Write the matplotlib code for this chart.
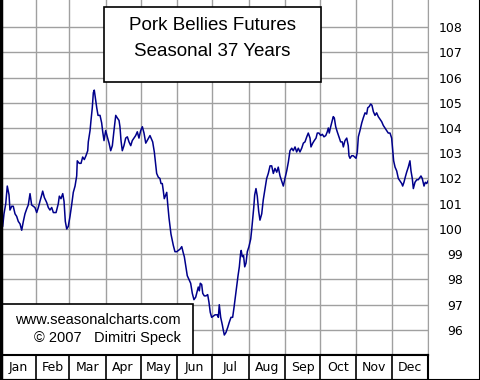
import numpy as np
import matplotlib
matplotlib.use("Agg")
import matplotlib.pyplot as plt
from matplotlib.patches import Rectangle
from matplotlib.lines import Line2D

# seasonal pattern (day of year, index value)
days = [0, 0.9, 2.3, 3.4, 4.9, 6.2, 7.7, 8.5, 10.0, 11.3, 12.8, 14.2, 15.6, 17.1,
        18.5, 19.9, 21.3, 22.8, 24.1, 25.6, 27.0, 28.4, 29.8, 31.3, 32.7, 34.1,
        35.6, 36.4, 37.8, 39.8, 41.2, 42.6, 44.1, 45.5, 47.8, 49.7, 50.6, 52.0,
        53.5, 54.6, 55.7, 56.9, 58.2, 59.7, 61.1, 62.5, 64.0, 65.4, 65.9, 67.6,
        69.1, 70.5, 71.9, 73.3, 74.8, 75.3, 76.8, 77.6, 78.7, 79.6, 80.4, 81.6,
        82.5, 83.6, 85.3, 86.7, 87.6, 88.7, 90.1, 91.5, 93.0, 94.4, 95.8, 97.2,
        98.7, 100.0, 101.5, 102.3, 103.2, 104.3, 105.7, 107.2, 108.6, 110.0,
        111.5, 112.8, 114.3, 115.7, 117.1, 118.5, 120.0, 121.4, 122.8, 124.3,
        127.9, 130.2, 131.6, 132.8, 133.6, 135.0, 136.4, 137.3, 138.4, 139.3,
        140.1, 141.3, 142.2, 143.0, 144.1, 145.0, 145.8, 146.9, 147.8, 149.2,
        150.7, 152.1, 153.5, 155.0, 156.3, 157.2, 158.4, 159.7, 161.2, 162.6,
        164.0, 165.4, 166.9, 168.3, 169.1, 170.0, 170.8, 172.0, 172.9, 174.2,
        175.7, 177.1, 178.2, 179.3, 180.5, 181.9, 183.4, 185.3, 186.2, 187.0,
        188.2, 189.6, 190.4, 191.3, 192.7, 194.2, 195.5, 197.0, 198.4, 199.6,
        200.4, 201.7, 203.0, 204.1, 205.1, 205.7, 206.6, 207.7, 208.7, 209.8,
        210.9, 212.3, 213.8, 214.6, 215.5, 216.4, 217.2, 218.3, 219.4, 220.6,
        221.7, 223.2, 224.5, 226.0, 227.4, 228.8, 230.3, 231.7, 233.1, 234.5,
        236.0, 237.3, 238.8, 240.2, 241.6, 243.0, 244.5, 245.9, 247.3, 248.8,
        250.1, 251.6, 253.0, 254.4, 255.8, 257.3, 258.7, 260.1, 261.6, 262.9,
        264.4, 265.2, 266.7, 268.0, 269.5, 270.6, 272.0, 273.5, 274.9, 276.3,
        277.8, 279.1, 280.0, 280.8, 282.0, 283.1, 284.2, 285.1, 286.3, 287.6,
        289.1, 290.5, 291.9, 292.8, 294.2, 295.7, 297.0, 297.6, 298.5, 299.9,
        301.3, 303.6, 304.7, 305.6, 307.0, 308.5, 309.8, 311.3, 312.7, 313.6,
        314.9, 316.1, 317.2, 318.4, 319.8, 321.2, 322.6, 324.1, 325.5, 326.9,
        328.3, 329.8, 331.1, 332.6, 334.0, 334.9, 335.7, 336.9, 338.3, 339.7,
        341.1, 342.6, 343.4, 344.5, 345.6, 346.8, 348.2, 349.6, 350.5, 351.6,
        352.5, 353.9, 355.4, 356.7, 358.2, 359.0, 360.1, 361.6, 362.7, 363.9,
        365.0]

values = [100.0, 100.0, 100.1, 100.6, 101.0, 101.7, 101.35, 100.75, 100.9, 100.9,
          100.6, 100.5, 100.3, 100.2, 99.95, 100.3, 100.6, 100.8, 100.95, 101.4,
          100.95, 100.9, 100.85, 100.65, 100.85, 101.1, 101.35, 101.5, 101.25,
          101.05, 100.85, 100.75, 100.85, 100.65, 100.65, 101.0, 101.3, 101.2,
          101.4, 101.1, 100.3, 100.0, 100.1, 100.5, 100.95, 101.45, 101.7, 102.1,
          102.7, 102.6, 102.6, 102.85, 102.75, 102.9, 103.1, 103.45, 103.9, 104.3,
          104.8, 105.4, 105.5, 105.1, 104.8, 104.5, 104.5, 104.2, 103.85, 103.5,
          103.9, 103.65, 103.4, 103.1, 103.3, 103.9, 104.5, 104.4, 104.3, 104.05,
          103.5, 103.1, 103.3, 103.6, 103.65, 103.45, 103.3, 103.5, 103.6, 103.7,
          103.85, 103.6, 103.9, 104.05, 103.8, 103.4, 103.7, 103.45, 103.05,
          102.55, 102.2, 102.05, 102.0, 101.8, 101.8, 101.5, 101.2, 101.35,
          101.45, 101.0, 100.45, 100.1, 99.8, 99.55, 99.35, 99.1, 99.1, 99.15,
          99.2, 99.3, 99.05, 98.9, 98.55, 98.15, 98.0, 97.85, 97.45, 97.2, 97.3,
          97.55, 97.7, 97.55, 97.85, 97.8, 97.45, 97.35, 97.35, 97.4, 97.1, 96.7,
          96.5, 96.55, 96.6, 96.6, 96.5, 97.0, 96.5, 96.2, 96.0, 95.8, 95.9, 96.1,
          96.3, 96.5, 96.5, 96.9, 97.2, 97.7, 98.15, 98.5, 99.0, 99.15, 98.9,
          98.95, 98.5, 98.65, 99.1, 99.3, 99.6, 99.95, 100.4, 100.85, 101.35,
          101.6, 101.3, 100.7, 100.35, 100.6, 101.15, 101.6, 102.0, 102.2, 102.5,
          102.5, 102.2, 102.4, 102.25, 102.45, 102.1, 101.9, 101.7, 102.0, 102.3,
          102.65, 103.1, 103.2, 103.1, 103.25, 103.05, 103.2, 103.05, 103.2,
          103.4, 103.45, 103.65, 103.8, 103.6, 103.25, 103.4, 103.5, 103.6, 103.8,
          103.8, 103.7, 103.75, 103.65, 103.7, 103.85, 104.0, 103.8, 104.05,
          104.25, 104.45, 104.4, 104.05, 103.85, 103.65, 103.45, 103.45, 103.25,
          103.5, 103.6, 103.3, 102.9, 102.8, 102.9, 102.9, 102.8, 103.05, 103.65,
          103.9, 104.2, 104.4, 104.6, 104.55, 104.8, 104.85, 104.95, 104.9,
          104.65, 104.5, 104.6, 104.45, 104.35, 104.25, 104.1, 104.0, 103.9,
          103.8, 103.8, 103.6, 103.1, 102.7, 102.45, 102.3, 102.0, 101.9, 101.8,
          101.7, 101.85, 102.05, 102.25, 102.45, 102.7, 102.3, 102.0, 101.6,
          101.85, 101.95, 101.95, 102.05, 102.1, 102.0, 101.7, 101.85, 101.8,
          101.9]

months = ["Jan", "Feb", "Mar", "Apr", "May", "Jun",
          "Jul", "Aug", "Sep", "Oct", "Nov", "Dec"]
month_starts = [0, 31, 59, 90, 120, 151, 181, 212, 243, 273, 304, 334, 365]
y_ticks = [96, 97, 98, 99, 100, 101, 102, 103, 104, 105, 106, 107, 108]

title_lines = ["Pork Bellies Futures", "Seasonal 37 Years"]
credit_lines = ["www.seasonalcharts.com", "\u00a9 2007   Dimitri Speck"]

W, H = 480, 380
fig = plt.figure(figsize=(W / 100, H / 100), dpi=100)
fig.patch.set_facecolor("white")

grid_col = "#a0a0a0"

# main plot area
ax = fig.add_axes([0, 25 / H, 428 / W, 355 / H])
ax.plot(days, values, color="#00008b", linewidth=1.1, zorder=3)
ax.set_xlim(0, 365)
ax.set_ylim(95.008, 109.07)
ax.set_xticks(month_starts)
ax.set_xticklabels([])
ax.tick_params(axis="x", length=0)
ax.set_yticks(y_ticks)
ax.yaxis.tick_right()
ax.tick_params(axis="y", length=0, pad=25, labelsize=9)
for lab in ax.get_yticklabels():
    lab.set_horizontalalignment("right")
ax.grid(True, color=grid_col, linewidth=1.0, zorder=1)
ax.spines["left"].set_color("black")
ax.spines["left"].set_linewidth(2.5)
ax.spines["bottom"].set_color("black")
ax.spines["bottom"].set_linewidth(1.5)
ax.spines["right"].set_color(grid_col)
ax.spines["top"].set_visible(False)

# title box
ax.add_patch(Rectangle((104 / 428, 1 - 82 / 355), 217 / 428, 75 / 355,
                       transform=ax.transAxes, facecolor="white",
                       edgecolor="black", linewidth=1.2, zorder=5))
for txt, yy in zip(title_lines, [1 - 25 / 355, 1 - 52 / 355]):
    ax.text(212.5 / 428, yy, txt, transform=ax.transAxes, ha="center",
            va="center", fontsize=13.5, family="Liberation Sans", zorder=6)

# credit box
ax.add_patch(Rectangle((0, 0), 193 / 428, 51 / 355,
                       transform=ax.transAxes, facecolor="white",
                       edgecolor="black", linewidth=1.2, zorder=5))
ax.text(97.5 / 428, 1 - 320 / 355, credit_lines[0], transform=ax.transAxes,
        ha="center", va="center", fontsize=10.5, family="Liberation Sans",
        zorder=6)
ax.text(107 / 428, 1 - 338 / 355, credit_lines[1], transform=ax.transAxes,
        ha="center", va="center", fontsize=10.5, family="Liberation Sans",
        zorder=6)

# month strip
mx = fig.add_axes([0, 0, 428 / W, 25 / H])
mx.set_xlim(0, 365)
mx.set_ylim(0, 1)
mx.set_xticks([])
mx.set_yticks([])
for s in mx.spines.values():
    s.set_color("black")
    s.set_linewidth(1.5)
for b in month_starts[1:-1]:
    mx.axvline(b, color="black", linewidth=1.2)
for i, m in enumerate(months):
    mid = (month_starts[i] + month_starts[i + 1]) / 2
    mx.text(mid, 0.5, m, ha="center", va="center", fontsize=9)

# outer frame
fig.add_artist(Line2D([1 / W, 1 / W], [0, 1], color="black", linewidth=2.5))
fig.add_artist(Line2D([1 - 0.5 / W, 1 - 0.5 / W], [0, 1], color="black",
                      linewidth=1.5))
fig.add_artist(Line2D([0, 1], [0.5 / H, 0.5 / H], color="black", linewidth=1.5))

fig.savefig("out.png", dpi=100)
